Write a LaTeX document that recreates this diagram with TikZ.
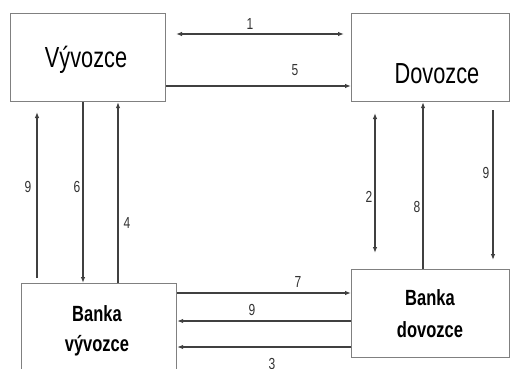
\documentclass[tikz,border=0pt]{standalone}
\usepackage{fontspec}
\setmainfont{Liberation Sans}
\usetikzlibrary{arrows.meta}
\newcommand\sq[1]{\scalebox{0.75}[1]{#1}}
\begin{document}
\begin{tikzpicture}[x=1pt,y=-1pt,
  box/.style={draw=black!50,line width=1.2pt,rectangle,inner sep=0pt,anchor=north west},
  conn/.style={draw=black!75,line width=1.1pt},
  arr/.style={conn,-{Latex[length=6pt,width=4.5pt]}},
  arrb/.style={conn,{Latex[length=6pt,width=4.5pt]}-{Latex[length=6pt,width=4.5pt]}},
  big/.style={font=\fontsize{29}{32}\selectfont},
  bank/.style={font=\bfseries\fontsize{22}{26}\selectfont},
  num/.style={font=\fontsize{16}{18}\selectfont,text=black!80}]
\useasboundingbox (0,0) rectangle (511,369);
\clip (0,0) rectangle (511,369);
% boxes
\node[box,minimum width=155pt,minimum height=88pt] (vy) at (10,13) {};
\node[box,minimum width=158pt,minimum height=88pt] (do) at (351,13) {};
\node[box,minimum width=155pt,minimum height=110pt] (bv) at (21,283) {};
\node[box,minimum width=158pt,minimum height=88pt] (bd) at (351,269) {};
% texts
\node[big] (tvy) at (86,60) {\sq{Vývozce}};
\node[big] (tdo) at (437,74) {\sq{Dovozce}};
\node[bank] (tbv1) at (97,314) {\sq{Banka}};
\node[bank] (tbv2) at (97,346) {\sq{vývozce}};
\node[bank] (tbd1) at (430,298) {\sq{Banka}};
\node[bank] (tbd2) at (430,330) {\sq{dovozce}};
% helper coordinates
\coordinate (a1s) at (176,34);
\coordinate (a1e) at (344,34);
\coordinate (h5) at (0,86);
\coordinate (h7) at (0,293);
\coordinate (h9) at (0,321);
\coordinate (h3) at (0,347);
\coordinate (l9s) at (37,278);
\coordinate (l9e) at (37,112);
\coordinate (v6) at (83,0);
\coordinate (v4) at (118,0);
\coordinate (r2s) at (375,113);
\coordinate (r2e) at (375,253);
\coordinate (v8) at (423,0);
\coordinate (r9s) at (493,110);
\coordinate (r9e) at (493,260);
% connectors
\draw[arrb] (a1s) -- (a1e);
\draw[arr] (vy.east |- h5) -- (do.west |- h5);
\draw[arr] (l9s) -- (l9e);
\draw[arr] (vy.south -| v6) -- (bv.north -| v6);
\draw[arr] (bv.north -| v4) -- (vy.south -| v4);
\draw[arrb] (r2s) -- (r2e);
\draw[arr] (bd.north -| v8) -- (do.south -| v8);
\draw[arr] (r9s) -- (r9e);
\draw[arr] (bv.east |- h7) -- (bd.west |- h7);
\draw[arr] (bd.west |- h9) -- (bv.east |- h9);
\draw[arr] (bd.west |- h3) -- (bv.east |- h3);
% labels
\node[num] (n1) at (250,24) {\sq{1}};
\node[num] (n5) at (295,70) {\sq{5}};
\node[num] (n9a) at (28,187) {\sq{9}};
\node[num] (n6) at (77,187) {\sq{6}};
\node[num] (n4) at (127,223) {\sq{4}};
\node[num] (n2) at (369,197) {\sq{2}};
\node[num] (n8) at (417,207) {\sq{8}};
\node[num] (n9b) at (486,173) {\sq{9}};
\node[num] (n7) at (298,282) {\sq{7}};
\node[num] (n9c) at (252,310) {\sq{9}};
\node[num] (n3) at (272,364) {\sq{3}};
\end{tikzpicture}
\end{document}
